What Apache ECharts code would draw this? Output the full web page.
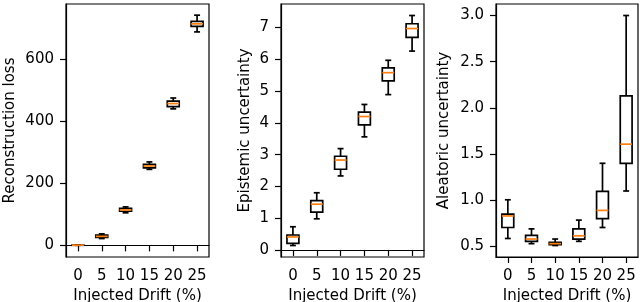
<!DOCTYPE html>
<html>
<head>
<meta charset="utf-8">
<script src="https://cdn.jsdelivr.net/npm/echarts@6/dist/echarts.min.js"></script>
<style>
html,body{margin:0;padding:0;background:#fff;}
#c{width:640px;height:302px;}
</style>
</head>
<body>
<div id="c"></div>
<script>
// Categories (injected drift %)
const categories = ['0', '5', '10', '15', '20', '25'];
// Each entry: [whiskerLow, q1, median, q3, whiskerHigh]
const reconstructionLoss = [
  [0.2, 0.4, 0.5, 0.6, 0.8],
  [22, 26, 29, 33, 37],
  [105, 110, 114, 119, 124],
  [245, 250, 256, 261, 269],
  [440, 447, 457, 465, 475],
  [688, 706, 714, 722, 742]
];
const epistemic = [
  [0.14, 0.21, 0.41, 0.47, 0.73],
  [0.98, 1.19, 1.44, 1.55, 1.80],
  [2.33, 2.54, 2.83, 2.95, 3.19],
  [3.56, 3.94, 4.20, 4.34, 4.58],
  [4.89, 5.32, 5.58, 5.73, 5.97],
  [6.26, 6.69, 6.97, 7.12, 7.38]
];
const aleatoric = [
  [0.586, 0.705, 0.83, 0.85, 1.005],
  [0.53, 0.555, 0.58, 0.62, 0.69],
  [0.51, 0.52, 0.53, 0.545, 0.58],
  [0.555, 0.58, 0.615, 0.69, 0.785],
  [0.705, 0.80, 0.89, 1.095, 1.40],
  [1.10, 1.40, 1.607, 2.13, 3.0]
];
// Tick labels
const recTicks = [0, 200, 400, 600];
const epiTicks = [0, 1, 2, 3, 4, 5, 6, 7];
const aleTicks = [0.5, 1.0, 1.5, 2.0, 2.5, 3.0];
const yNames = ['Reconstruction loss', 'Epistemic uncertainty', 'Aleatoric uncertainty'];
const xName = 'Injected Drift (%)';

const FONT = 'DejaVu Sans';
const FS = 15;

function boxRender(params, api) {
  const x = api.value(0);
  const lo = api.coord([x, api.value(1)]);
  const q1 = api.coord([x, api.value(2)]);
  const md = api.coord([x, api.value(3)]);
  const q3 = api.coord([x, api.value(4)]);
  const hi = api.coord([x, api.value(5)]);
  const band = api.size([1, 0])[0];
  const bw = band * 0.5;
  const cw = band * 0.25;
  const cx = lo[0];
  const LW = 1.7;
  const st = { stroke: '#000', lineWidth: LW, fill: null };
  return {
    type: 'group',
    children: [
      { type: 'line', shape: { x1: cx, y1: q3[1], x2: cx, y2: hi[1] }, style: st },
      { type: 'line', shape: { x1: cx, y1: lo[1], x2: cx, y2: q1[1] }, style: st },
      { type: 'line', shape: { x1: cx - cw / 2, y1: hi[1], x2: cx + cw / 2, y2: hi[1] }, style: st },
      { type: 'line', shape: { x1: cx - cw / 2, y1: lo[1], x2: cx + cw / 2, y2: lo[1] }, style: st },
      { type: 'rect', shape: { x: cx - bw / 2, y: q3[1], width: bw, height: q1[1] - q3[1] }, style: { stroke: '#000', lineWidth: LW, fill: 'none' } },
      { type: 'line', shape: { x1: cx - bw / 2, y1: md[1], x2: cx + bw / 2, y2: md[1] }, style: { stroke: '#ff7f0e', lineWidth: LW } }
    ]
  };
}

const grids = [
  { left: 66, top: 4, width: 143, height: 253 },
  { left: 281, top: 4, width: 143, height: 253 },
  { left: 496, top: 4, width: 142, height: 253 }
];
const yRanges = [[-37.5, 778], [-0.222, 7.742], [0.3855, 3.1245]];
const yTicks = [recTicks, epiTicks, aleTicks];
const yGaps = [48, 28, 44];
const yFmt = [v => String(v), v => String(v), v => v.toFixed(1)];
const datasets = [reconstructionLoss, epistemic, aleatoric];

const option = {
  animation: false,
  backgroundColor: '#fff',
  grid: grids.map(g => Object.assign({ show: true, borderColor: '#000', borderWidth: 1.2, backgroundColor: 'transparent', containLabel: false, outerBoundsMode: 'none' }, g)),
  xAxis: grids.map((g, i) => ({
    type: 'category',
    gridIndex: i,
    data: categories,
    boundaryGap: true,
    name: xName,
    nameLocation: 'middle',
    nameGap: 29,
    nameTextStyle: { fontFamily: FONT, fontSize: FS, color: '#000' },
    axisLine: { show: true, lineStyle: { color: '#000', width: 1.2 } },
    axisTick: { show: true, alignWithLabel: true, length: 6, lineStyle: { color: '#000', width: 1.2 } },
    axisLabel: { fontFamily: FONT, fontSize: FS, color: '#000', margin: 12, interval: 0, hideOverlap: false },
    splitLine: { show: false }
  })),
  yAxis: grids.map((g, i) => ({
    type: 'value',
    gridIndex: i,
    min: yRanges[i][0],
    max: yRanges[i][1],
    name: yNames[i],
    nameLocation: 'middle',
    nameGap: yGaps[i],
    nameTextStyle: { fontFamily: FONT, fontSize: FS, color: '#000' },
    axisLine: { show: true, lineStyle: { color: '#000', width: 1.2 } },
    axisTick: { show: true, length: 6, customValues: yTicks[i], lineStyle: { color: '#000', width: 1.2 } },
    axisLabel: { fontFamily: FONT, fontSize: FS, color: '#000', margin: 12, customValues: yTicks[i], formatter: yFmt[i] },
    splitLine: { show: false }
  })),
  series: datasets.map((d, i) => ({
    type: 'custom',
    xAxisIndex: i,
    yAxisIndex: i,
    renderItem: boxRender,
    encode: { x: 0, y: [1, 2, 3, 4, 5] },
    data: d.map((v, k) => [k].concat(v)),
    clip: false
  }))
};

const chart = echarts.init(document.getElementById('c'), null, { renderer: 'canvas' });
chart.setOption(option);
</script>
</body>
</html>
